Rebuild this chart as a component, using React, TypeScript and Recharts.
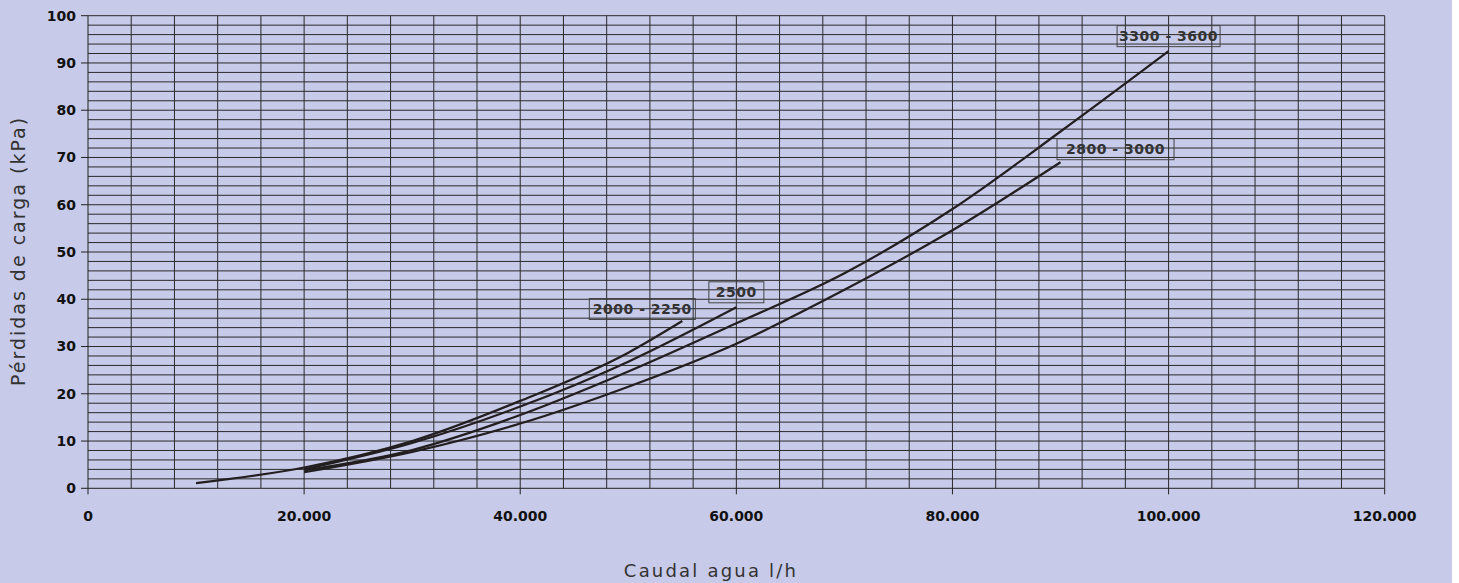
import React from 'react';
import { LineChart, Line, XAxis, YAxis, ReferenceLine, ReferenceDot } from 'recharts';

// Caudal agua (l/h) and pérdidas de carga (kPa) for each model
const caudal2000 = [10000, 20000, 30000, 40000, 50000, 55000];
const perdida2000 = [1.1, 4.4, 10.0, 18.5, 28.7, 35.4];

const caudal2500 = [20000, 30000, 40000, 50000, 60000];
const perdida2500 = [4.0, 9.6, 17.3, 26.8, 38.3];

const caudal3300 = [20000, 30000, 40000, 50000, 60000, 70000, 80000, 90000, 100000];
const perdida3300 = [3.8, 8.1, 15.5, 24.7, 34.9, 45.5, 59.1, 75.5, 92.5];

const caudal2800 = [20000, 30000, 40000, 50000, 60000, 70000, 80000, 90000];
const perdida2800 = [3.4, 7.7, 13.7, 21.5, 30.6, 42.0, 54.6, 69.0];

const seriesNames = ['2000 - 2250', '2500', '3300 - 3600', '2800 - 3000'];

const xTicks = [0, 20000, 40000, 60000, 80000, 100000, 120000];
const yTicks = [0, 10, 20, 30, 40, 50, 60, 70, 80, 90, 100];
const xGrid = [4000, 8000, 12000, 16000, 20000, 24000, 28000, 32000, 36000, 40000, 44000, 48000, 52000, 56000, 60000, 64000, 68000, 72000, 76000, 80000, 84000, 88000, 92000, 96000, 100000, 104000, 108000, 112000, 116000, 120000];
const yGrid = [2, 4, 6, 8, 10, 12, 14, 16, 18, 20, 22, 24, 26, 28, 30, 32, 34, 36, 38, 40, 42, 44, 46, 48, 50, 52, 54, 56, 58, 60, 62, 64, 66, 68, 70, 72, 74, 76, 78, 80, 82, 84, 86, 88, 90, 92, 94, 96, 98, 100];

const toPoints = (xs: number[], ys: number[]) => xs.map((x, i) => ({ x, y: ys[i] }));

const data2000 = toPoints(caudal2000, perdida2000);
const data2500 = toPoints(caudal2500, perdida2500);
const data3300 = toPoints(caudal3300, perdida3300);
const data2800 = toPoints(caudal2800, perdida2800);

const allSeries = [data2000, data2500, data3300, data2800];

// label box styles: offset from end point, box width
const labelStyles = [
  { dx: -40, dy: -12, w: 106 },
  { dx: 0, dy: -15, w: 55 },
  { dx: 0, dy: -15, w: 103 },
  { dx: 55, dy: -13, w: 117 },
];

const fmt = (n: number) => String(n).replace(/\B(?=(\d{3})+(?!\d))/g, '.');

const FONT = '"DejaVu Sans", sans-serif';
const LINE = '#231f20';
const GRID = '#2a2a2a';

const makeBox = (text: string, dx: number, dy: number, w: number) => (props: any) => {
  const { cx, cy } = props;
  const bx = cx + dx;
  const by = cy + dy;
  return (
    <g>
      <rect x={bx - w / 2} y={by - 10.5} width={w} height={21} fill="none" stroke="#444" strokeWidth={1} />
      <text x={bx} y={by} textAnchor="middle" dominantBaseline="central" fontFamily={FONT} fontSize={14} fontWeight="bold" letterSpacing={0.5} fill="#333">
        {text}
      </text>
    </g>
  );
};

export default function App() {
  return (
    <div style={{ position: 'absolute', left: 0, top: 0, width: 1452, height: 583, background: '#C7CAE8' }}>
      <LineChart width={1452} height={583} margin={{ top: 15.7, right: 67.3, bottom: 64.7, left: 28 }}>
        <XAxis
          type="number"
          dataKey="x"
          domain={[0, 120000]}
          ticks={xTicks}
          tickFormatter={fmt}
          height={30}
          tickSize={6}
          tickMargin={17}
          axisLine={{ stroke: '#222' }}
          tickLine={{ stroke: '#222' }}
          tick={{ fill: '#111', fontSize: 14, fontWeight: 'bold', fontFamily: FONT }}
          allowDuplicatedCategory={false}
        />
        <YAxis
          type="number"
          dataKey="y"
          domain={[0, 100]}
          ticks={yTicks}
          width={60}
          tickSize={7}
          tickMargin={5}
          axisLine={{ stroke: '#222' }}
          tickLine={{ stroke: '#222' }}
          tick={{ fill: '#111', fontSize: 14, fontWeight: 'bold', fontFamily: FONT }}
        />
        {yGrid.map((v) => (
          <ReferenceLine key={'h' + v} y={v} stroke={GRID} strokeWidth={1} />
        ))}
        {xGrid.map((v) => (
          <ReferenceLine key={'v' + v} x={v} stroke={GRID} strokeWidth={1} />
        ))}
        {allSeries.map((d, i) => (
          <Line
            key={seriesNames[i]}
            data={d}
            dataKey="y"
            type="monotone"
            stroke={LINE}
            strokeWidth={2.2}
            dot={false}
            isAnimationActive={false}
          />
        ))}
        {allSeries.map((d, i) => {
          const last = d[d.length - 1];
          const s = labelStyles[i];
          return (
            <ReferenceDot
              key={'lbl' + i}
              x={last.x}
              y={last.y}
              r={0}
              shape={makeBox(seriesNames[i], s.dx, s.dy, s.w)}
            />
          );
        })}
      </LineChart>
      <div
        style={{
          position: 'absolute',
          left: 711,
          top: 570,
          transform: 'translate(-50%, -50%)',
          fontFamily: FONT,
          fontSize: 18,
          letterSpacing: 2.2,
          color: '#333',
          whiteSpace: 'nowrap',
        }}
      >
        Caudal agua l/h
      </div>
      <div
        style={{
          position: 'absolute',
          left: 18,
          top: 251,
          transform: 'translate(-50%, -50%) rotate(-90deg)',
          fontFamily: FONT,
          fontSize: 19,
          letterSpacing: 2,
          color: '#333',
          whiteSpace: 'nowrap',
        }}
      >
        Pérdidas de carga (kPa)
      </div>
    </div>
  );
}
